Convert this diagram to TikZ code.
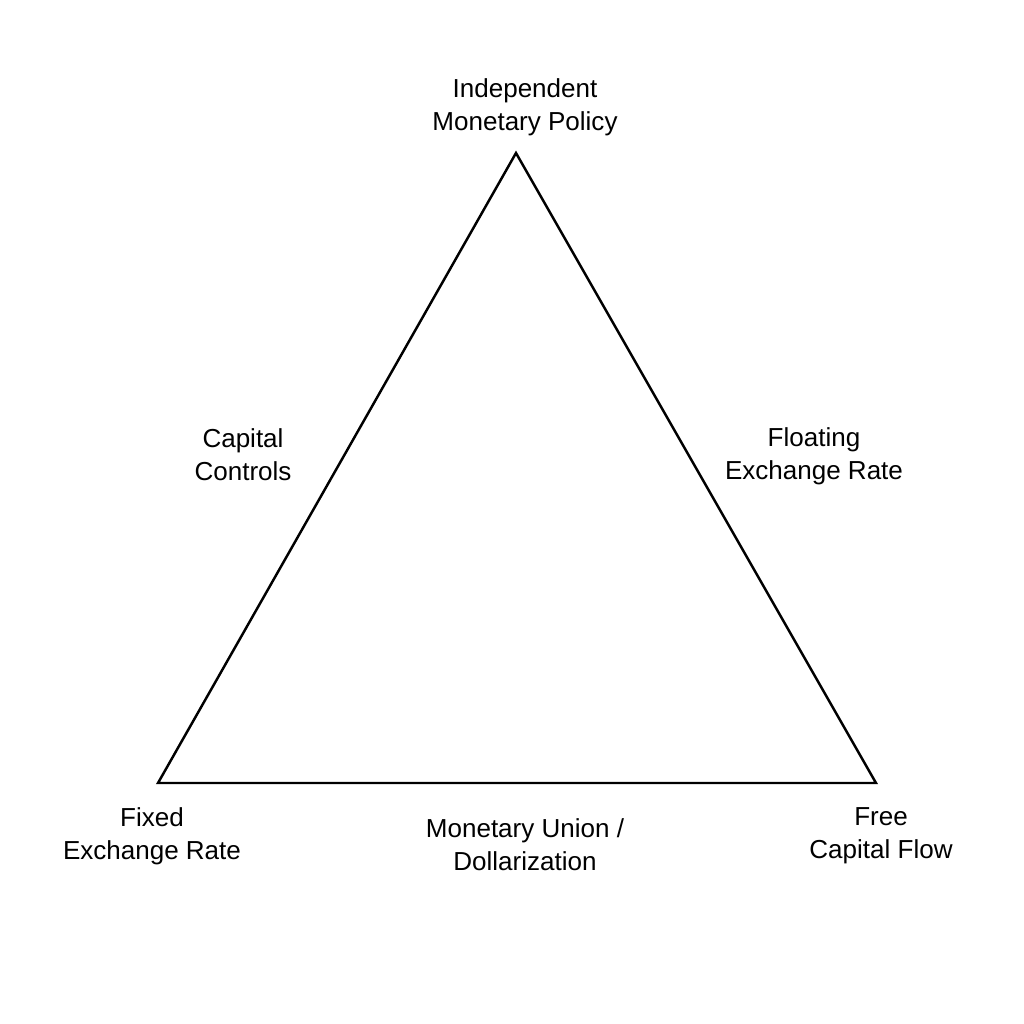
\documentclass[tikz,border=0pt]{standalone}
\usepackage{fontspec}
\setmainfont{Liberation Sans}
\begin{document}
\begin{tikzpicture}[
        x=0.01cm, y=-0.01cm,
        label/.style={align=center, font=\fontsize{7.4}{9.4}\selectfont, inner sep=0pt},
        side/.style={line width=0.7pt, line join=miter}
    ]
        \useasboundingbox (0,0) rectangle (1024,1024);
        \coordinate (top) at (516,153);
        \coordinate (left) at (158,783);
        \coordinate (right) at (876,783);

        \draw[side] (top) -- (right) -- (left) -- cycle;

        \node[label] (policy) at (525,107) {Independent\\Monetary Policy};
        \node[label] (controls) at (243,455) {Capital\\Controls};
        \node[label] (floating) at (814,456) {Floating\\Exchange Rate};
        \node[label] (fixed) at (152,836) {Fixed\\Exchange Rate};
        \node[label] (union) at (525,845) {Monetary Union /\\Dollarization};
        \node[label] (free) at (881,836) {Free\\Capital Flow};
    \end{tikzpicture}
\end{document}
